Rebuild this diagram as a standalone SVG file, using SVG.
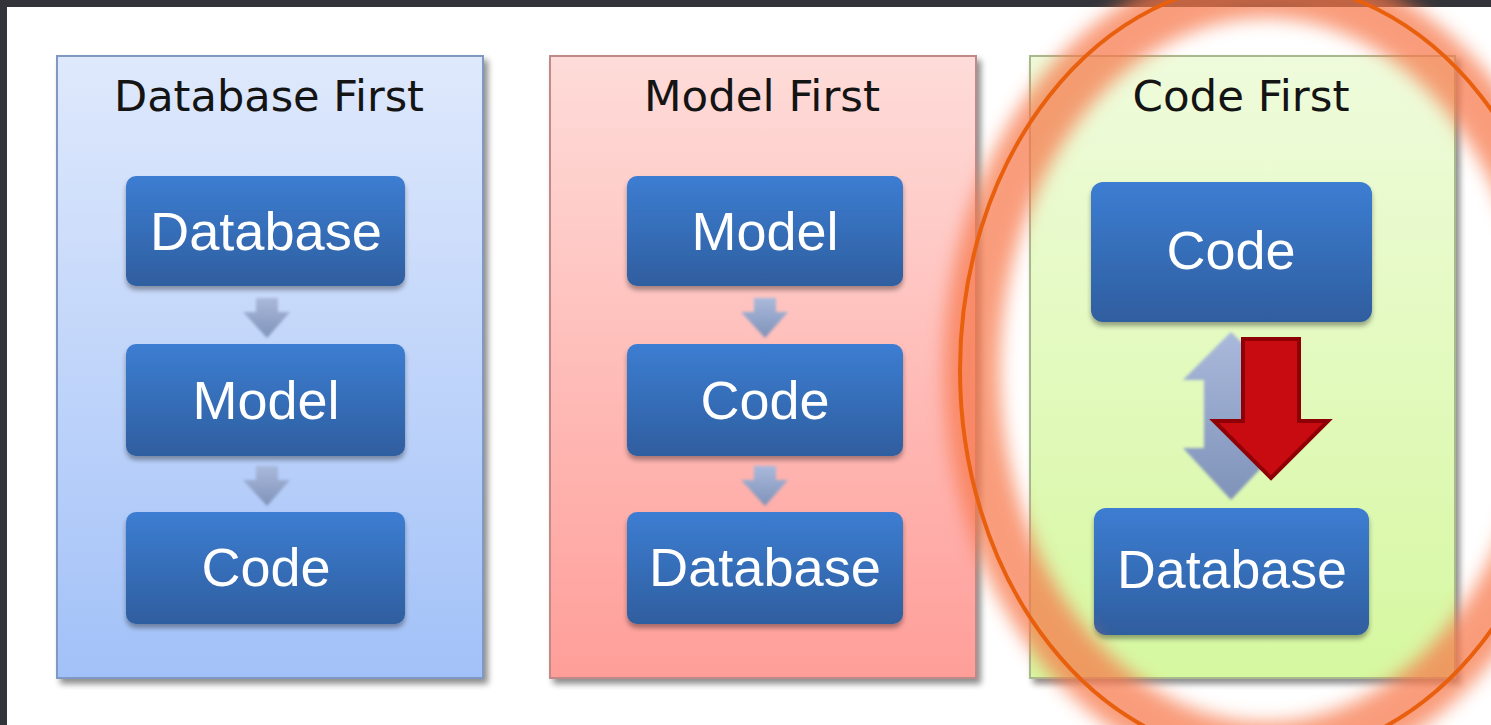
<svg xmlns="http://www.w3.org/2000/svg" width="1491" height="725" viewBox="0 0 1491 725">
  <defs>
    <linearGradient id="gBlue" x1="0" y1="0" x2="0" y2="1">
      <stop offset="0" stop-color="#dfe9fc"/>
      <stop offset="1" stop-color="#a2c1f8"/>
    </linearGradient>
    <linearGradient id="gPink" x1="0" y1="0" x2="0" y2="1">
      <stop offset="0" stop-color="#fedcd9"/>
      <stop offset="1" stop-color="#ff9e99"/>
    </linearGradient>
    <linearGradient id="gGreen" x1="0" y1="0" x2="0" y2="1">
      <stop offset="0" stop-color="#effbdc"/>
      <stop offset="1" stop-color="#d6f8a0"/>
    </linearGradient>
    <linearGradient id="gBox" x1="0" y1="0" x2="0" y2="1">
      <stop offset="0" stop-color="#3c7dd2"/>
      <stop offset="1" stop-color="#2f5e9f"/>
    </linearGradient>
    <linearGradient id="gArrow" x1="0" y1="0" x2="0" y2="1">
      <stop offset="0" stop-color="#a9b9dc"/>
      <stop offset="1" stop-color="#7f92b8"/>
    </linearGradient>
    <filter id="shadow" x="-10%" y="-10%" width="125%" height="125%">
      <feGaussianBlur in="SourceAlpha" stdDeviation="3"/>
      <feOffset dx="4" dy="5" result="b"/>
      <feComponentTransfer><feFuncA type="linear" slope="0.45"/></feComponentTransfer>
      <feMerge><feMergeNode/><feMergeNode in="SourceGraphic"/></feMerge>
    </filter>
    <filter id="boxShadow" x="-10%" y="-10%" width="125%" height="130%">
      <feGaussianBlur in="SourceAlpha" stdDeviation="2.5"/>
      <feOffset dx="0" dy="4" result="b"/>
      <feComponentTransfer><feFuncA type="linear" slope="0.35"/></feComponentTransfer>
      <feMerge><feMergeNode/><feMergeNode in="SourceGraphic"/></feMerge>
    </filter>
    <filter id="glow" x="-30%" y="-30%" width="160%" height="160%">
      <feGaussianBlur stdDeviation="9"/>
    </filter>
    <filter id="soft" x="-20%" y="-20%" width="140%" height="140%">
      <feGaussianBlur stdDeviation="1.5"/>
    </filter>
    <style>
      .panel { stroke-width: 2; }
      .title { font-family: "DejaVu Sans", Verdana, sans-serif; font-size: 42px; fill: #141414; text-anchor: middle; }
      .box { fill: url(#gBox); }
      .lbl { font-family: "Liberation Sans", Arial, sans-serif; font-size: 54px; fill: #ffffff; text-anchor: middle; }
      .arr { fill: url(#gArrow); }
    </style>
  </defs>

  <rect x="0" y="0" width="1491" height="725" fill="#ffffff"/>
  <rect x="0" y="0" width="1491" height="7" fill="#32343a"/>
  <rect x="0" y="0" width="7" height="725" fill="#32343a"/>

  <g id="panel-database-first">
    <rect class="panel" x="57" y="56" width="426" height="622" fill="url(#gBlue)" stroke="#7f98c4" filter="url(#shadow)"/>
    <text class="title" x="269" y="111" textLength="310" lengthAdjust="spacingAndGlyphs">Database First</text>
  </g>
  <g id="panel-model-first">
    <rect class="panel" x="550" y="56" width="426" height="622" fill="url(#gPink)" stroke="#c08a88" filter="url(#shadow)"/>
    <text class="title" x="762" y="111" textLength="236" lengthAdjust="spacingAndGlyphs">Model First</text>
  </g>
  <g id="panel-code-first">
    <rect class="panel" x="1030" y="56" width="425" height="622" fill="url(#gGreen)" stroke="#a9b98e" filter="url(#shadow)"/>
    <text class="title" x="1241" y="111" textLength="217" lengthAdjust="spacingAndGlyphs">Code First</text>
  </g>

  <g id="connectors">
    <path class="arr" d="M256,298 L278,298 L278,312 L290,312 L267,338 L243,312 L256,312 Z" filter="url(#soft)"/>
    <path class="arr" d="M256,466 L278,466 L278,480 L290,480 L267,506 L243,480 L256,480 Z" filter="url(#soft)"/>
    <path class="arr" d="M754,298 L776,298 L776,312 L788,312 L765,338 L741,312 L754,312 Z" filter="url(#soft)"/>
    <path class="arr" d="M754,466 L776,466 L776,480 L788,480 L765,506 L741,480 L754,480 Z" filter="url(#soft)"/>
    <path class="arr" d="M1231,332 L1280,380 L1258,380 L1258,448 L1280,448 L1231,500 L1183,448 L1204,448 L1204,380 L1183,380 Z" filter="url(#soft)"/>
    <path d="M1243,339 L1299,339 L1299,421 L1328,421 L1271,478 L1214,421 L1243,421 Z" fill="#c80b10" stroke="#8e0005" stroke-width="4" stroke-linejoin="miter"/>
  </g>

  <g id="node-db1-database">
    <rect class="box" x="126" y="176" width="279" height="110" rx="10" filter="url(#boxShadow)"/>
    <text class="lbl" x="266" y="250" textLength="232" lengthAdjust="spacingAndGlyphs">Database</text>
  </g>
  <g id="node-db1-model">
    <rect class="box" x="126" y="344" width="279" height="112" rx="10" filter="url(#boxShadow)"/>
    <text class="lbl" x="266" y="419">Model</text>
  </g>
  <g id="node-db1-code">
    <rect class="box" x="126" y="512" width="279" height="112" rx="10" filter="url(#boxShadow)"/>
    <text class="lbl" x="266" y="586">Code</text>
  </g>

  <g id="node-mf-model">
    <rect class="box" x="627" y="176" width="276" height="110" rx="10" filter="url(#boxShadow)"/>
    <text class="lbl" x="765" y="250">Model</text>
  </g>
  <g id="node-mf-code">
    <rect class="box" x="627" y="344" width="276" height="112" rx="10" filter="url(#boxShadow)"/>
    <text class="lbl" x="765" y="419">Code</text>
  </g>
  <g id="node-mf-database">
    <rect class="box" x="627" y="512" width="276" height="112" rx="10" filter="url(#boxShadow)"/>
    <text class="lbl" x="765" y="586" textLength="232" lengthAdjust="spacingAndGlyphs">Database</text>
  </g>

  <g id="node-cf-code">
    <rect class="box" x="1091" y="182" width="281" height="140" rx="12" filter="url(#boxShadow)"/>
    <text class="lbl" x="1231" y="269">Code</text>
  </g>
  <g id="node-cf-database">
    <rect class="box" x="1094" y="508" width="275" height="127" rx="12" filter="url(#boxShadow)"/>
    <text class="lbl" x="1232" y="588" textLength="230" lengthAdjust="spacingAndGlyphs">Database</text>
  </g>

  <g id="highlight">
    <ellipse cx="1266" cy="370" rx="294" ry="380" fill="none" stroke="#f7774a" stroke-width="56" opacity="0.72" filter="url(#glow)"/>
    <ellipse cx="1265" cy="370" rx="305" ry="388" fill="none" stroke="#e8600e" stroke-width="4"/>
  </g>
</svg>
